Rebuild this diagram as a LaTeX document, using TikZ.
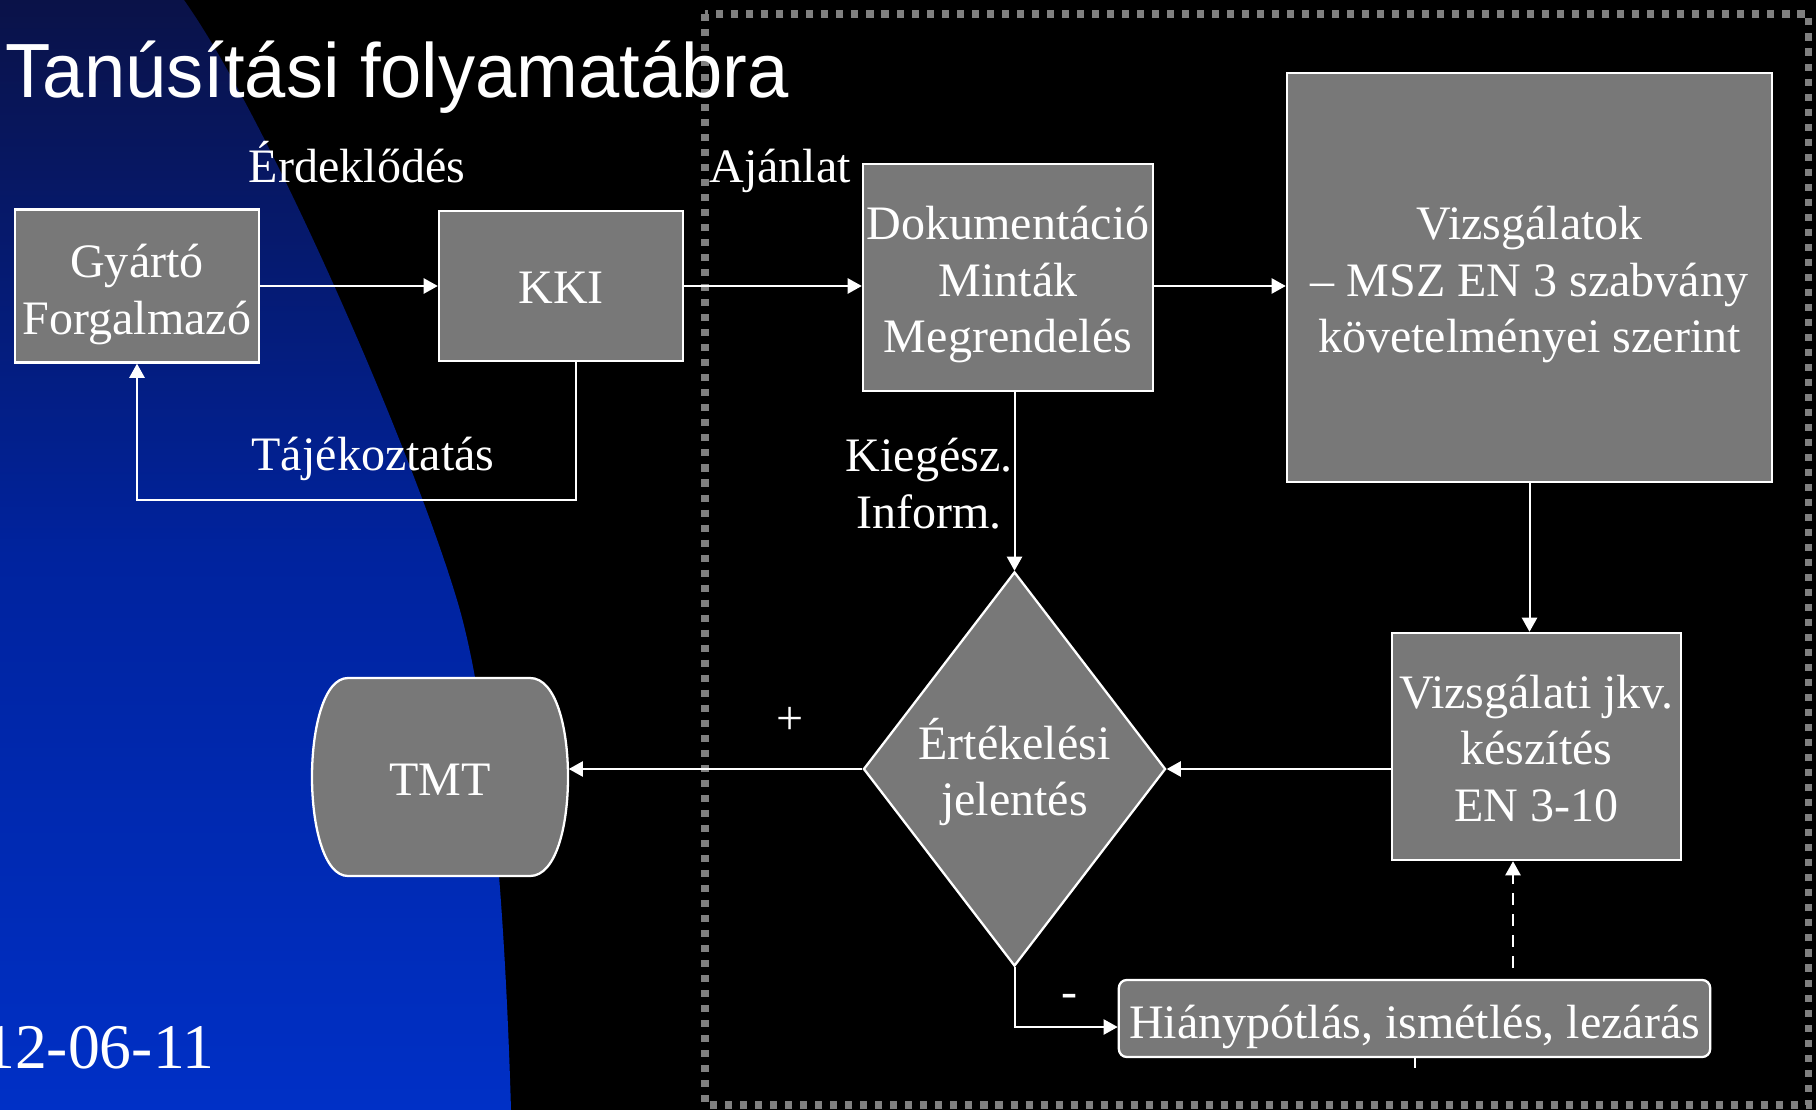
\documentclass[tikz,border=0pt]{standalone}
\usepackage{fontspec}
\setmainfont{Liberation Serif}
\newfontfamily\titlefont[FakeStretch=0.965]{Liberation Sans}
\usetikzlibrary{shapes.geometric,arrows.meta}
\definecolor{boxgray}{HTML}{787878}
\definecolor{framegray}{HTML}{808080}
\definecolor{navytop}{HTML}{0A1248}
\definecolor{bluemid}{HTML}{00239E}
\definecolor{bluebot}{HTML}{0030C6}
\begin{document}
\begin{tikzpicture}[x=0.01cm,y=-0.01cm,>={Triangle[length=4pt,width=4.3pt]},
    font=\fontsize{13.66}{16.2}\selectfont,
    box/.style={draw=white,line width=0.65pt,fill=boxgray,inner sep=0pt},
    conn/.style={draw=white,line width=0.57pt},
    lbl/.style={text=white,align=center,inner sep=0pt}]
  \useasboundingbox (0,0) rectangle (1816,1110);
  \fill[black] (0,0) rectangle (1816,1110);
  \shade[top color=navytop,bottom color=bluebot,middle color=bluemid]
    (0,0) -- (184,0) .. controls (269,120) and (412,450) .. (457,600)
    .. controls (493,720) and (506,940) .. (511,1110) -- (0,1110) -- cycle;
  % dotted frame
  \draw[framegray,line width=2pt,dash pattern=on 2pt off 2.27pt] (705,14) rectangle (1808,1105);

  \node[lbl,anchor=base west,font=\titlefont\fontsize{21.85}{24}\selectfont] (title) at (5,98) {Tanúsítási folyamatábra};

  % boxes
  \node[box,minimum width=2.44cm,minimum height=1.53cm] (gyarto) at (137,286) {};
  \node[box,minimum width=2.44cm,minimum height=1.50cm] (kki) at (561,286) {};
  \node[box,minimum width=2.90cm,minimum height=2.27cm] (dok) at (1008,277.5) {};
  \node[box,minimum width=4.85cm,minimum height=4.09cm] (vizsg) at (1529.5,277.5) {};
  \node[box,minimum width=2.89cm,minimum height=2.27cm] (jkv) at (1536.5,746.5) {};
  \node[box,diamond,minimum width=3.02cm,minimum height=3.94cm] (ert) at (1014.5,769) {};
  \node[box,rounded corners=0.08cm,minimum width=5.91cm,minimum height=0.77cm] (hiany) at (1414.5,1018.5) {};
  \filldraw[fill=boxgray,draw=white,line width=0.65pt] (348,678) -- (530,678)
    .. controls (556,678) and (568,728) .. (568,777) .. controls (568,826) and (556,876) .. (530,876)
    -- (348,876) .. controls (324,876) and (312,826) .. (312,777) .. controls (312,728) and (324,678) .. (348,678) -- cycle;
  \node[minimum width=2.56cm,minimum height=1.98cm,inner sep=0pt] (tmt) at (440,777) {};

  % box texts
  \node[lbl] (gyartotxt) at ([yshift=-0.08cm]gyarto.center) {Gyártó\\Forgalmazó};
  \node[lbl] (kkitxt) at ([yshift=-0.02cm]kki.center) {KKI};
  \node[lbl] (doktxt) at ([yshift=-0.07cm]dok.center) {Dokumentáció\\Minták\\Megrendelés};
  \node[lbl] (vizsgtxt) at ([yshift=-0.07cm]vizsg.center) {Vizsgálatok\\– MSZ EN 3 szabvány\\követelményei szerint};
  \node[lbl] (jkvtxt) at ([yshift=-0.02cm]jkv.center) {Vizsgálati jkv.\\készítés\\EN 3-10};
  \node[lbl] (erttxt) at ([yshift=-0.03cm]ert.center) {Értékelési\\jelentés};
  \node[lbl] (hianytxt) at ([yshift=-0.08cm]hiany.center) {Hiánypótlás, ismétlés, lezárás};
  \node[lbl] (tmttxt) at ([yshift=-0.03cm]tmt.center) {TMT};

  % labels
  \node[lbl,anchor=base] (erd) at (357,183) {Érdeklődés};
  \node[lbl,anchor=base] (ajan) at (780,183) {Ajánlat};
  \node[lbl,anchor=base] (taj) at (373,471) {Tájékoztatás};
  \node[lbl] (kieg) at (929,484) {Kiegész.\\Inform.};
  \node[lbl] (plus) at (790,721) {+};
  \node[lbl] (minus) at (1069,1001) {-};
  \node[lbl,anchor=base east,font=\fontsize{18.1}{20}\selectfont] (datum) at (215,1068) {12-06-11};

  % connectors
  \draw[conn,->] (gyarto) -- (kki);
  \draw[conn,->] (kki.east) -- (kki.east -| dok.west);
  \draw[conn,->] (dok.east |- kki.east) -- (vizsg.west |- kki.east);
  \draw[conn,->] ([xshift=0.15cm]kki.south) -- ++(0,138) -| (gyarto.south);
  \draw[conn,->] (dok.south -| ert.north) -- (ert.north);
  \draw[conn,->] (vizsg.south) -- (vizsg.south |- jkv.north);
  \draw[conn,->] (jkv.west |- ert.east) -- (ert.east);
  \draw[conn,->] (ert.west) -- (ert.west -| tmt.east);
  \draw[conn,->] (ert.south) |- ([yshift=-0.085cm]hiany.west);
  \coordinate (dashtop) at (1513,968);
  \draw[conn,->,dash pattern=on 3.4pt off 2.6pt] (dashtop) -- (dashtop |- jkv.south);
  \draw[conn] (hiany.south) -- ++(0,10);
\end{tikzpicture}
\end{document}
